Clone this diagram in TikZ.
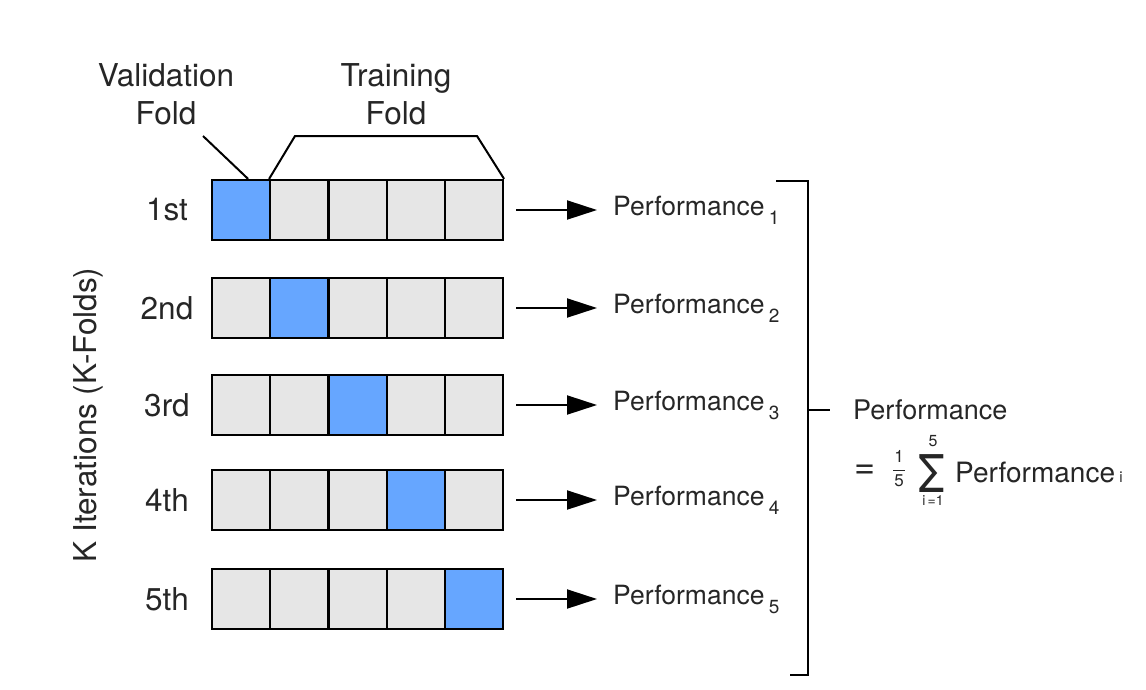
\documentclass[tikz,border=0pt]{standalone}
\usepackage{fontspec}
\setmainfont{TeX Gyre Heros}
\usetikzlibrary{arrows.meta,calc}
\definecolor{foldblue}{HTML}{66A6FF}
\definecolor{foldgray}{HTML}{E6E6E6}
\tikzset{
  cell/.style={draw=black, line width=2.2pt, minimum width=58.2pt, minimum height=60pt, inner sep=0pt, fill=foldgray},
  valcell/.style={cell, fill=foldblue},
  biglabel/.style={font=\fontsize{31.5}{38}\selectfont, inner sep=0pt, text=black!85},
  perflabel/.style={font=\fontsize{26.5}{30}\selectfont, inner sep=0pt, anchor=west, text=black!85},
  smalltxt/.style={font=\fontsize{17}{18}\selectfont, inner sep=0pt, text=black!85, text height=9pt, text depth=0pt},
  conn/.style={line width=2pt, black},
  arr/.style={conn, -{Triangle[length=30pt,width=19pt]}},
}
\begin{document}
\begin{tikzpicture}[x=1pt,y=-1pt]
\useasboundingbox (0,0) rectangle (1146,689);
\fill[white] (0,0) rectangle (1146,689);
% rows
\foreach \r/\yc/\lab in {1/210/1st,2/308/2nd,3/405/3rd,4/500/4th,5/599/5th}{
  \foreach \c in {1,...,5}{
    \ifnum\c=\r
      \node[valcell] (c\r\c) at ({212+29.1+(\c-1)*58.2},\yc) {};
    \else
      \node[cell] (c\r\c) at ({212+29.1+(\c-1)*58.2},\yc) {};
    \fi
  }
  \node[biglabel] (lab\r) at (167,\yc) {\lab};
  \node[perflabel] (perf\r) at (613,\yc) {Performance\,\raisebox{-9pt}{\fontsize{19}{20}\selectfont \r}};
  \draw[arr] ([xshift=12pt]c\r5.east) -- ([xshift=-16pt]perf\r.west);
}
% redraw validation cells on top so their borders are complete
\foreach \r in {1,...,5}{
  \node[valcell] at (c\r\r) {};
}
% top labels
\node[biglabel, align=center] (valtxt) at (166,94) {Validation\\Fold};
\node[biglabel, align=center] (traintxt) at (396,94) {Training\\Fold};
\coordinate (vp) at (203,136);
\draw[conn] (vp) -- ([xshift=7pt]c11.north);
\coordinate (tl) at (295,136);
\coordinate (tr) at (477,136);
\draw[conn, line join=miter] (c12.north west) -- (tl) -- (tr) -- (c15.north east);
% side label
\node[biglabel, rotate=90] (kit) at (88,415) {K Iterations (K-Folds)};
% right bracket
\coordinate (bt) at (776,181);
\coordinate (btr) at (808,181);
\coordinate (bbr) at (808,675);
\coordinate (bb) at (790,675);
\coordinate (bm) at (808,410);
\coordinate (bmt) at (830,410);
\draw[conn] (bt) -- (btr) -- (bbr) -- (bb);
\draw[conn] (bm) -- (bmt);
% formula
\node[perflabel, font=\fontsize{27}{30}\selectfont] (ptot) at (853,410) {Performance};
\node[inner sep=0pt, font=\fontsize{36}{38}\selectfont, text=black!85] (eq) at (865,472) {=};
\node[smalltxt] (fnum) at (899,458) {1};
\node[smalltxt] (fden) at (899,482) {5};
\draw[line width=1pt, black!85] ($(fnum.south)!0.5!(fden.north)+(-6,0)$) -- ($(fnum.south)!0.5!(fden.north)+(6,0)$);
\node[inner sep=0pt, font=\fontsize{52}{56}\selectfont, text=black!85, xscale=0.85, text height=30pt, text depth=0pt] (sig) at (932,477) {Σ};
\node[smalltxt, font=\fontsize{16}{17}\selectfont, text height=8pt] (sigtop) at (933,442) {5};
\node[smalltxt, font=\fontsize{14}{15}\selectfont, text height=7pt] (sigbot) at (933,502) {i\,=1};
\node[perflabel, font=\fontsize{28}{30}\selectfont] (pf) at (955,472) {Performance};
\node[smalltxt, font=\fontsize{15}{16}\selectfont, anchor=west, text height=8pt] (pfi) at ([xshift=4pt,yshift=-6pt]pf.east) {i};
\end{tikzpicture}
\end{document}
